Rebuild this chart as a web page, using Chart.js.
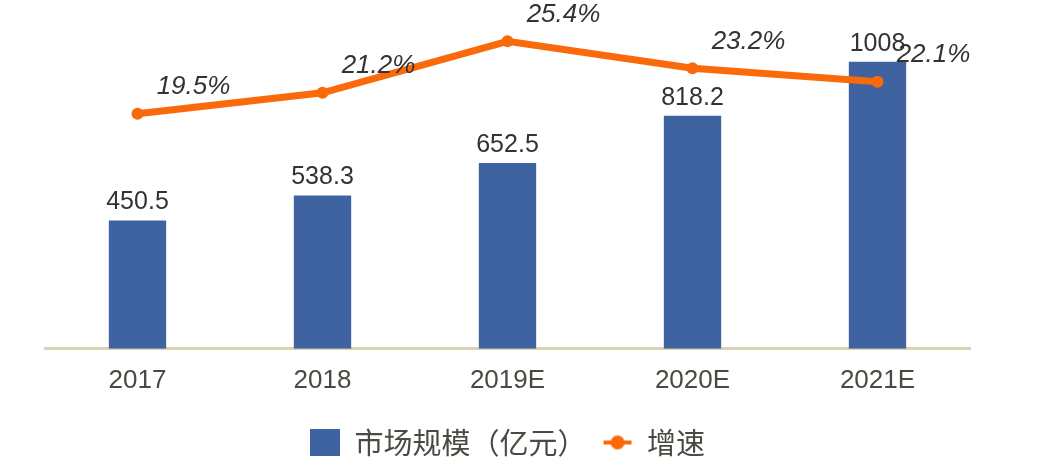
<!DOCTYPE html>
<html>
<head>
<meta charset="utf-8">
<script src="https://cdn.jsdelivr.net/npm/chart.js@4/dist/chart.umd.min.js"></script>
<style>
  html, body { margin: 0; padding: 0; background: #fff; }
  #wrap { width: 1038px; height: 461px; position: relative; }
</style>
</head>
<body>
<div id="wrap"><canvas id="myChart"></canvas></div>
<script>
const years = ['2017', '2018', '2019E', '2020E', '2021E'];
const marketSize = [450.5, 538.3, 652.5, 818.2, 1008];
const growth = [19.5, 21.2, 25.4, 23.2, 22.1];

const barColor = '#3F63A0';
const lineColor = '#FA6A0A';

// little legend icon: line with a dot
const lineIcon = document.createElement('canvas');
lineIcon.width = 30; lineIcon.height = 16;
(function(){
  let c = lineIcon.getContext('2d');
  c.strokeStyle = lineColor; c.lineWidth = 4;
  c.beginPath(); c.moveTo(1, 8); c.lineTo(29, 8); c.stroke();
  c.fillStyle = lineColor;
  c.beginPath(); c.arc(15, 8, 7, 0, Math.PI * 2); c.fill();
})();

const valueLabels = {
  id: 'valueLabels',
  afterDatasetsDraw(chart) {
    const ctx = chart.ctx;
    ctx.save();
    ctx.textAlign = 'center';
    ctx.textBaseline = 'alphabetic';
    ctx.fillStyle = '#333333';
    ctx.font = '25px "Liberation Sans", Arial, sans-serif';
    chart.getDatasetMeta(1).data.forEach((bar, i) => {
      ctx.fillText(String(marketSize[i]), bar.x, bar.y - 11);
    });
    ctx.font = 'italic 26px "Liberation Sans", Arial, sans-serif';
    ctx.textBaseline = 'middle';
    chart.getDatasetMeta(0).data.forEach((pt, i) => {
      ctx.fillText(growth[i].toFixed(1) + '%', pt.x + 56, pt.y - 27);
    });
    ctx.restore();
  }
};

const data = {
  labels: years,
  datasets: [
    {
      type: 'line',
      label: '增速',
      data: growth,
      yAxisID: 'y1',
      borderColor: lineColor,
      backgroundColor: lineColor,
      borderWidth: 7,
      pointRadius: 6,
      pointBackgroundColor: lineColor,
      pointBorderWidth: 0,
      tension: 0,
      order: 0
    },
    {
      type: 'bar',
      label: '市场规模（亿元）',
      data: marketSize,
      yAxisID: 'y',
      backgroundColor: barColor,
      categoryPercentage: 1,
      barPercentage: 0.31,
      order: 1
    }
  ]
};

const config = {
  data,
  options: {
    responsive: true,
    maintainAspectRatio: false,
    animation: false,
    layout: { padding: { left: 45, right: 68, top: 7, bottom: -6 } },
    scales: {
      x: {
        grid: { display: false, drawTicks: false },
        border: { color: '#D8D3B2', width: 3 },
        ticks: {
          color: '#4A4A42',
          padding: 16,
          font: { family: '"Liberation Sans", sans-serif', size: 26 }
        }
      },
      y: {
        display: false,
        min: 0,
        max: 1200
      },
      y1: {
        display: false,
        position: 'right',
        min: 0.33,
        max: 28.2
      }
    },
    plugins: {
      tooltip: { enabled: false },
      legend: {
        position: 'bottom',
        reverse: true,
        labels: {
          usePointStyle: true,
          pointStyleWidth: 30,
          boxHeight: 27,
          padding: 16,
          color: '#4A4A42',
          font: { family: '"Noto Sans CJK SC", sans-serif', size: 29 },
          generateLabels(chart) {
            const items = Chart.defaults.plugins.legend.labels.generateLabels(chart);
            items.forEach(it => {
              if (it.datasetIndex === 0) {
                it.pointStyle = lineIcon;
              } else {
                it.pointStyle = 'rect';
                it.fillStyle = barColor;
                it.strokeStyle = barColor;
                it.lineWidth = 0;
              }
            });
            return items;
          }
        }
      }
    }
  },
  plugins: [valueLabels]
};

let chart = new Chart(document.getElementById('myChart'), config);
</script>
</body>
</html>
